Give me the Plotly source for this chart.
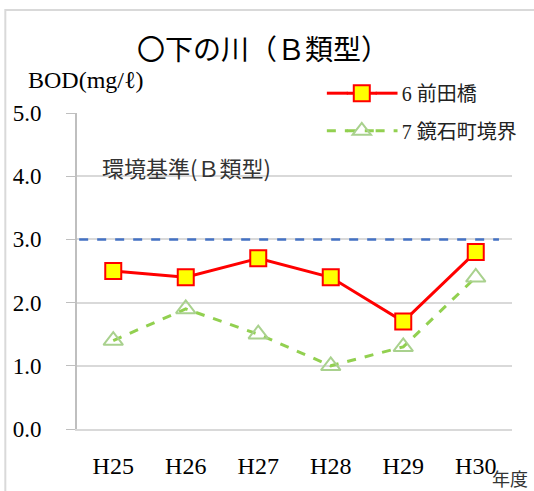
import plotly.graph_objects as go

years = ["H25", "H26", "H27", "H28", "H29", "H30"]
maeda = [2.5, 2.4, 2.7, 2.4, 1.7, 2.8]
kagami = [1.4, 1.9, 1.5, 1.0, 1.3, 2.4]
standard = 3.0
y_ticks = [0, 1, 2, 3, 4, 5]
y_tick_labels = ["0.0", "1.0", "2.0", "3.0", "4.0", "5.0"]

W, H = 534, 491
L, R, T, B = 77, 20, 113, 59
pw, ph = W - L - R, H - T - B

def px(x):
    return (x - L) / pw

def py(y):
    return (H - B - y) / ph

serif = "Liberation Serif, Noto Sans CJK JP"
sans = "Noto Sans CJK JP"
red, green = "#ff0000", "#92d050"
NB = "\u00a0"

fig = go.Figure()
fig.add_trace(go.Scatter(
    x=years, y=maeda, name=NB * 4 + "6 前田橋", mode="lines+markers",
    line=dict(color=red, width=3),
    marker=dict(symbol="square", size=16, color="#ffff00",
                line=dict(color=red, width=2)),
    legend="legend",
))
fig.add_trace(go.Scatter(
    x=years, y=kagami, name=NB * 4 + "7 鏡石町境界", mode="lines+markers",
    line=dict(color=green, width=3, dash="dash"),
    marker=dict(symbol="triangle-up-open", size=17, color="#a9d18e",
                line=dict(color="#a9d18e", width=2)),
    legend="legend2",
))

fig.add_shape(type="line", xref="x domain", yref="y",
              x0=0.005, x1=0.97, y0=standard, y1=standard,
              line=dict(color="#4472c4", width=2.5, dash="dash"))

# outer frame
fig.add_shape(type="rect", xref="paper", yref="paper",
              x0=px(5), x1=px(560), y0=py(520), y1=py(9),
              line=dict(color="#d9d9d9", width=2), fillcolor="rgba(0,0,0,0)",
              layer="below")

# legend line extensions (legend symbols in the reference are wider)
for yy, col, dash in [(93, red, "solid"), (131, green, "dash")]:
    for a, b in [(328, 349), (377, 399)]:
        fig.add_shape(type="line", xref="paper", yref="paper",
                      x0=px(a), x1=px(b), y0=py(yy), y1=py(yy),
                      line=dict(color=col, width=3, dash=dash))

fig.add_annotation(text="〇下の川（Ｂ類型）", xref="paper", yref="paper",
                   x=px(264), y=py(47), xanchor="center", yanchor="middle",
                   showarrow=False,
                   font=dict(family=sans, size=28, color="black"))
fig.add_annotation(text="BOD(mg/ℓ)", xref="paper", yref="paper",
                   x=px(26), y=py(80), xanchor="left", yanchor="middle",
                   showarrow=False,
                   font=dict(family=serif, size=24, color="black"))
fig.add_annotation(text="環境基準(Ｂ類型)", xref="paper", yref="paper",
                   x=px(100), y=py(168), xanchor="left", yanchor="middle",
                   showarrow=False,
                   font=dict(family=sans, size=22, color="#333333"))
fig.add_annotation(text="年度", xref="paper", yref="paper",
                   x=px(492), y=py(481), xanchor="left", yanchor="middle",
                   showarrow=False,
                   font=dict(family=sans, size=18, color="#333333"))

legend_common = dict(xanchor="left", yanchor="middle",
                     bgcolor="rgba(0,0,0,0)",
                     font=dict(family=serif, size=20, color="#222222"))

fig.update_layout(
    width=W, height=H,
    margin=dict(l=L, r=R, t=T, b=B),
    paper_bgcolor="white", plot_bgcolor="white",
    showlegend=True,
    legend=dict(x=px(343), y=py(93), **legend_common),
    legend2=dict(x=px(343), y=py(131), **legend_common),
    xaxis=dict(type="category", range=[-0.5, 5.5], showgrid=False,
               showline=True, linecolor="#d9d9d9", linewidth=2,
               ticks="", tickfont=dict(family=serif, size=24, color="black"),
               ticklabelstandoff=14),
    yaxis=dict(range=[0, 5], tickvals=y_ticks, ticktext=y_tick_labels,
               showgrid=True, gridcolor="#d9d9d9", gridwidth=2,
               showline=True, linecolor="#bfbfbf", linewidth=2,
               ticks="outside", ticklen=9, tickcolor="#bfbfbf",
               zeroline=False, ticklabelstandoff=20,
               tickfont=dict(family=serif, size=23, color="black")),
)

fig.write_html("out.html", config={"displayModeBar": False},
               post_script="document.body.style.margin='0';")
